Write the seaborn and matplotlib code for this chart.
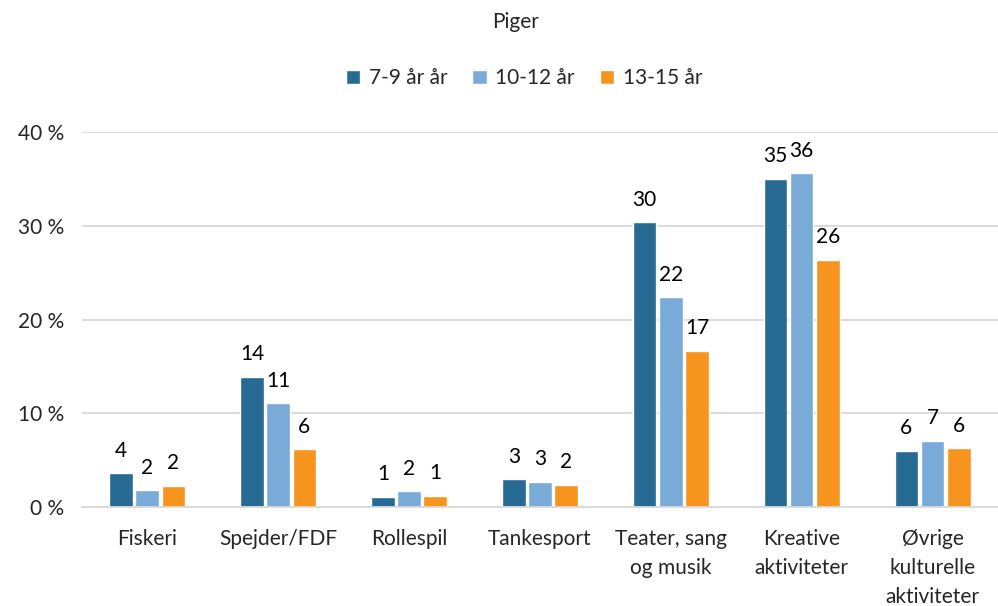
import matplotlib
matplotlib.use('Agg')
import matplotlib.pyplot as plt
import pandas as pd
import seaborn as sns

# Data (percent)
categories = ['Fiskeri', 'Spejder/FDF', 'Rollespil', 'Tankesport',
              'Teater, sang\nog musik', 'Kreative\naktiviteter',
              'Øvrige\nkulturelle\naktiviteter']
groups = ['7-9 år år', '10-12 år', '13-15 år']
vals_7_9 = [3.6, 13.9, 1.1, 3.0, 30.4, 35.0, 6.0]
vals_10_12 = [1.8, 11.1, 1.7, 2.7, 22.4, 35.6, 7.1]
vals_13_15 = [2.3, 6.2, 1.2, 2.4, 16.7, 26.4, 6.3]
colors = ['#276A94', '#7AAAD8', '#F7941D']

df = pd.DataFrame({
    'kategori': categories * 3,
    'gruppe': [g for g in groups for _ in categories],
    'pct': vals_7_9 + vals_10_12 + vals_13_15,
})

sns.set_style('white')
plt.rcParams['font.family'] = ['Lato', 'DejaVu Sans']
FS = 15

fig = plt.figure(figsize=(9.98, 6.06), dpi=100)
ax = fig.add_axes([0.082, 0.163, 0.918, 0.619])

sns.barplot(data=df, x='kategori', y='pct', hue='gruppe', hue_order=groups,
            palette=colors, width=0.6, gap=0.1, saturation=1, ax=ax)

for cont in ax.containers:
    ax.bar_label(cont, fmt='{:.0f}', padding=9, fontsize=FS, color='#000000')

ax.set_ylim(0, 40)
ax.set_yticks([0, 10, 20, 30, 40])
ax.set_yticklabels([f'{t} %' for t in [0, 10, 20, 30, 40]], fontsize=FS)
ax.tick_params(axis='x', labelsize=FS, length=0, pad=16)
for lbl in ax.get_xticklabels():
    lbl.set_linespacing(1.55)
ax.tick_params(axis='y', length=0, pad=13)
ax.set_xlabel('')
ax.set_ylabel('')
ax.yaxis.grid(True, color='#D9D9D9', linewidth=1.3)
ax.set_axisbelow(True)
for s in ['top', 'right', 'left']:
    ax.spines[s].set_visible(False)
ax.spines['bottom'].set_color('#D9D9D9')
ax.spines['bottom'].set_linewidth(1.3)

ax.legend(loc='center', bbox_to_anchor=(0.525, 0.871), bbox_transform=fig.transFigure,
          ncol=3, frameon=False, fontsize=FS, handlelength=0.7, handleheight=0.7,
          handletextpad=0.4, columnspacing=1.2)
fig.text(0.517, 0.963, 'Piger', ha='center', va='center', fontsize=FS)

plt.savefig('out.png', dpi=100)
plt.close()
